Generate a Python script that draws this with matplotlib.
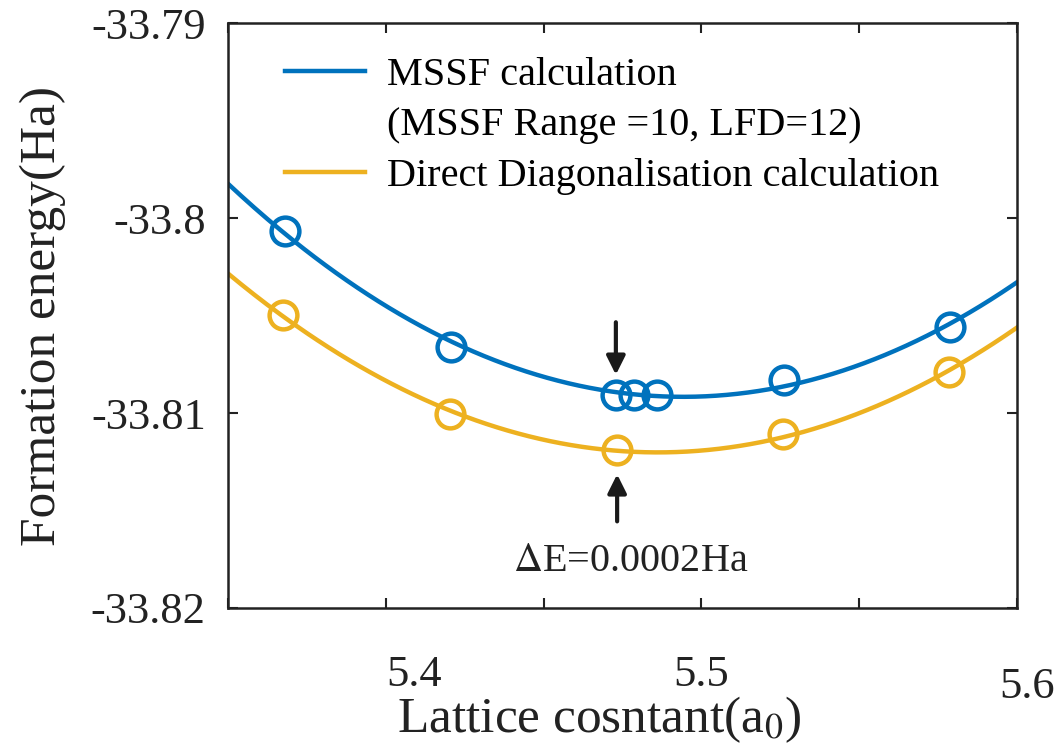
import numpy as np
import matplotlib
matplotlib.use("Agg")
import matplotlib.pyplot as plt
from matplotlib.transforms import ScaledTranslation

plt.rcParams['font.family'] = ['Liberation Serif', 'DejaVu Serif']
plt.rcParams['mathtext.fontset'] = 'stix'

# data
mssf_a = [5.3681, 5.4207, 5.4729, 5.4786, 5.4859, 5.5262, 5.5788]
mssf_e = [-33.80066, -33.80660, -33.80905, -33.80905, -33.80905, -33.80829, -33.80558]
dd_a = [5.3674, 5.4203, 5.4733, 5.5259, 5.5785]
dd_e = [-33.80496, -33.81003, -33.81192, -33.81110, -33.80788]

xticks = [5.35, 5.40, 5.45, 5.50, 5.55, 5.60]
xtick_labels = ['', '5.4', '', '5.5', '', '5.6']
yticks = [-33.79, -33.80, -33.81, -33.82]
ytick_labels = ['-33.79', '-33.8', '-33.81', '-33.82']

blue = '#0072BD'
orange = '#EDB120'

fig = plt.figure(figsize=(10.64, 7.46), dpi=100)
ax = fig.add_axes([0.2143, 0.185, 0.7415, 0.784])

xlim = (5.35, 5.60)
xs = np.linspace(xlim[0], xlim[1], 300)

# smooth fitted curves
pb = np.polyfit(mssf_a, mssf_e, 2)
po = np.polyfit(dd_a, dd_e, 2)
ax.plot(xs, np.polyval(pb, xs), color=blue, lw=3.2, label='MSSF calculation')
ax.plot([], [], color='none', label='(MSSF Range =10, LFD=12)')
ax.plot(xs, np.polyval(po, xs), color=orange, lw=3.2, label='Direct Diagonalisation calculation')

ax.plot(mssf_a, mssf_e, 'o', ms=20, mfc='none', mec=blue, mew=3.2)
ax.plot(dd_a, dd_e, 'o', ms=20, mfc='none', mec=orange, mew=3.2)

# arrows around the minimum
ax.annotate('', xy=(mssf_a[2], -33.80818), xytext=(mssf_a[2], -33.8052),
            arrowprops=dict(arrowstyle='-|>', color='#1a1a1a', lw=3, mutation_scale=28))
ax.annotate('', xy=(dd_a[2], -33.8130), xytext=(dd_a[2], -33.8157),
            arrowprops=dict(arrowstyle='-|>', color='#1a1a1a', lw=3, mutation_scale=28))
ax.text(5.4775, -33.81759, r'$\Delta$E=0.0002Ha', fontsize=29, ha='center', va='center',
        color='#222222')

ax.set_xlim(*xlim)
ax.set_ylim(-33.82, -33.79)
ax.set_xticks(xticks)
ax.set_xticklabels(xtick_labels)
ax.set_yticks(yticks)
ax.set_yticklabels(ytick_labels)
ax.tick_params(direction='in', length=7, width=1.5, top=True, right=True,
               labelsize=32, colors='#222222')
ax.tick_params(axis='x', pad=34)
ax.tick_params(axis='y', pad=16)
for s in ax.spines.values():
    s.set_linewidth(1.8)
    s.set_color('#222222')

# tick labels are not centred on their ticks in the original
labs = ax.get_xticklabels()
labs[1].set_transform(labs[1].get_transform() + ScaledTranslation(0.28, 0, fig.dpi_scale_trans))
labs[5].set_transform(labs[5].get_transform() + ScaledTranslation(0.10, -0.12, fig.dpi_scale_trans))

ax.set_xlabel('Lattice cosntant(a$_0$)', fontsize=37, color='#222222')
ax.xaxis.set_label_coords(0.470, -0.148)
ax.set_ylabel('Formation energy(Ha)', fontsize=37, labelpad=18, color='#222222')

ax.legend(loc='upper left', bbox_to_anchor=(0.026, 1.005), frameon=False, fontsize=29,
          handlelength=2.0, handletextpad=0.55, labelspacing=0.33)

fig.savefig('out.png', dpi=100)
